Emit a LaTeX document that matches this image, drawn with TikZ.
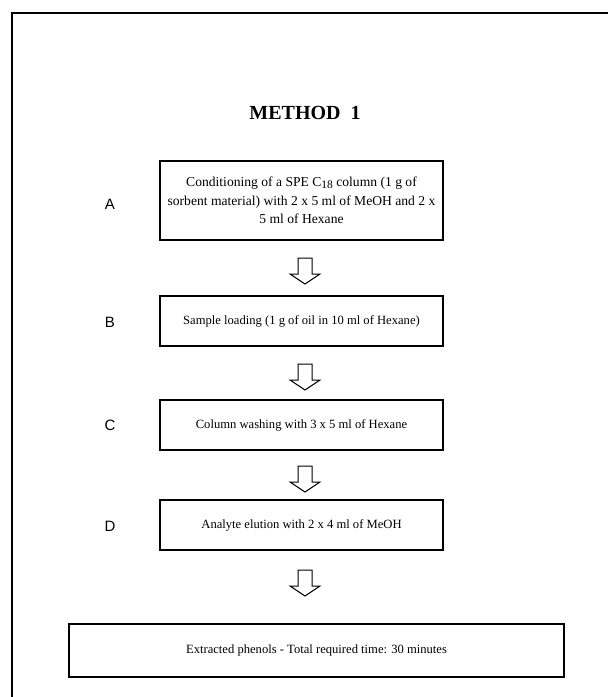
\documentclass[tikz,border=0pt]{standalone}
\usepackage{fontspec}
\setmainfont{Liberation Serif}
\newfontfamily\labfont{Liberation Sans}
\begin{document}
\begin{tikzpicture}[x=1pt,y=-1pt,
  stepbox/.style={draw,line width=1.2pt,minimum width=283pt,align=center,font=\fontsize{12.6}{15}\selectfont,inner sep=2pt},
  lab/.style={font=\labfont\fontsize{15}{18}\selectfont},
  hollow/.style={draw,line width=1pt,line join=miter}]
\useasboundingbox (0,0) rectangle (609,697);
\draw[line width=1.2pt] (12,697) -- (12,13) -- (608,13);
\node[font=\bfseries\fontsize{20}{24}\selectfont] (title) at (305,113) {METHOD\ \ 1};
\node[stepbox,minimum height=79pt,font=\fontsize{13.6}{18.5}\selectfont] (a) at (301.5,200.5) {Conditioning of a SPE C{\fontsize{11.5}{12}\selectfont\raisebox{-2pt}{18}} column (1 g of\\ sorbent material) with 2 x 5 ml of MeOH and 2 x\\ 5 ml of Hexane};
\node[stepbox,minimum height=50pt] (b) at (301.5,321) {Sample loading (1 g of oil in 10 ml of Hexane)};
\node[stepbox,minimum height=50pt] (c) at (301.5,425) {Column washing with 3 x 5 ml of Hexane};
\node[stepbox,minimum height=50pt] (d) at (301.5,525) {Analyte elution with 2 x 4 ml of MeOH};
\node[stepbox,minimum height=53pt,minimum width=495pt] (e) at (316.5,650.5) {Extracted phenols - Total required time: 30 minutes};
\node[lab] (la) at (110,204) {A};
\node[lab] (lb) at (110,322) {B};
\node[lab] (lc) at (110,425) {C};
\node[lab] (ld) at (110,526) {D};
\coordinate (m1) at (305,271);
\coordinate (m2) at (305,377);
\coordinate (m3) at (305,479);
\coordinate (m4) at (305,583);
\foreach \i in {1,2,3,4}{
  \draw[hollow] ([shift={(-7,-13)}]m\i) -- ([shift={(7,-13)}]m\i) -- ([shift={(7,3)}]m\i) -- ([shift={(15,3)}]m\i) -- ([shift={(0,13)}]m\i) -- ([shift={(-15,3)}]m\i) -- ([shift={(-7,3)}]m\i) -- cycle;
}
\end{tikzpicture}
\end{document}
